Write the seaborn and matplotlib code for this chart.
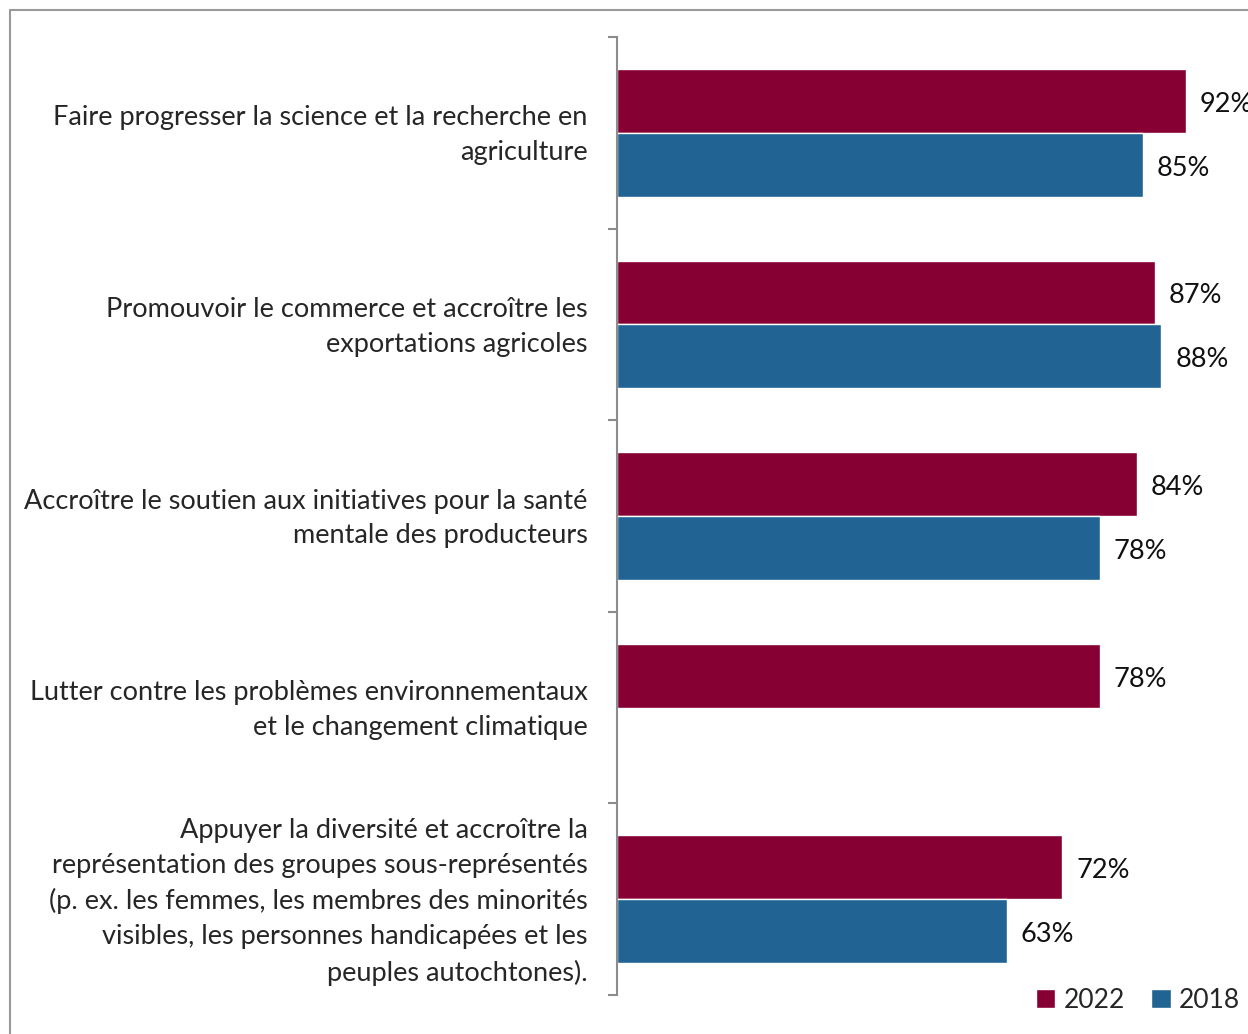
import pandas as pd
import matplotlib.pyplot as plt
import seaborn as sns
from matplotlib.lines import Line2D
from matplotlib.patches import Patch
from matplotlib.ticker import FixedLocator
from matplotlib.transforms import ScaledTranslation

# Chart data
categories = [
    "Faire progresser la science et la recherche en\nagriculture",
    "Promouvoir le commerce et accroître les\nexportations agricoles",
    "Accroître le soutien aux initiatives pour la santé\nmentale des producteurs",
    "Lutter contre les problèmes environnementaux\net le changement climatique",
    "Appuyer la diversité et accroître la\nreprésentation des groupes sous-représentés\n(p. ex. les femmes, les membres des minorités\nvisibles, les personnes handicapées et les\npeuples autochtones).",
]
years = ["2022", "2018"]
values_2022 = [92, 87, 84, 78, 72]
values_2018 = [85, 88, 78, None, 63]

colors = {"2022": "#860034", "2018": "#216494"}

rows = []
for cat, v22, v18 in zip(categories, values_2022, values_2018):
    rows.append({"Category": cat, "Year": "2022", "Value": v22})
    if v18 is not None:
        rows.append({"Category": cat, "Year": "2018", "Value": v18})
df = pd.DataFrame(rows)

sns.set_theme(style="white")
plt.rcParams["font.family"] = ["Lato", "DejaVu Sans"]

fig = plt.figure(figsize=(12.48, 10.34), dpi=100)
ax = fig.add_axes([617 / 1248, 1 - 995 / 1034, 1 - 617 / 1248, (995 - 37) / 1034])

sns.barplot(data=df, y="Category", x="Value", hue="Year", order=categories,
            hue_order=years, palette=colors, orient="h", width=0.667,
            saturation=1, legend=False, ax=ax)

ax.set_xlim(0, 102)
ax.set_ylim(len(categories) - 0.5, -0.5)
ax.set_xlabel("")
ax.set_ylabel("")
ax.set_xticks([])

for side in ["top", "right", "bottom"]:
    ax.spines[side].set_visible(False)
ax.spines["left"].set_color("#8c8c8c")
ax.spines["left"].set_linewidth(1.5)

ax.tick_params(axis="y", which="major", length=0, pad=21, labelsize=19.5)
shift_up = ScaledTranslation(0, 5 / 100, fig.dpi_scale_trans)
for lab in ax.get_yticklabels():
    lab.set_horizontalalignment("right")
    lab.set_multialignment("right")
    lab.set_linespacing(1.5)
    lab.set_transform(lab.get_transform() + shift_up)
ax.yaxis.set_minor_locator(FixedLocator([i - 0.5 for i in range(len(categories) + 1)]))
ax.tick_params(axis="y", which="minor", left=True, length=6.5, width=1.5, color="#8c8c8c")

for cont in ax.containers:
    labels = [f"{v:.0f}%" for v in cont.datavalues]
    texts = ax.bar_label(cont, labels=labels, padding=10, fontsize=19.5,
                         color="#111111", clip_on=False)
    for t in texts:
        t.xyann = (10, -2.5)

# Legend
handles = [Patch(facecolor=colors[y], label=y) for y in years]
fig.legend(handles=handles, loc="center right",
           bbox_to_anchor=(1240 / 1248, 1 - 1000 / 1034), ncol=2,
           frameon=False, fontsize=19, handlelength=0.75, handleheight=0.75,
           handletextpad=0.3, columnspacing=1.0, borderaxespad=0, borderpad=0)

# Outer frame of the document box
fig.add_artist(Line2D([10 / 1248, 1], [1 - 10 / 1034, 1 - 10 / 1034],
                      transform=fig.transFigure, color="#999999", linewidth=1.5))
fig.add_artist(Line2D([10 / 1248, 10 / 1248], [0, 1 - 10 / 1034],
                      transform=fig.transFigure, color="#999999", linewidth=1.5))

plt.savefig("out.png", dpi=100)
